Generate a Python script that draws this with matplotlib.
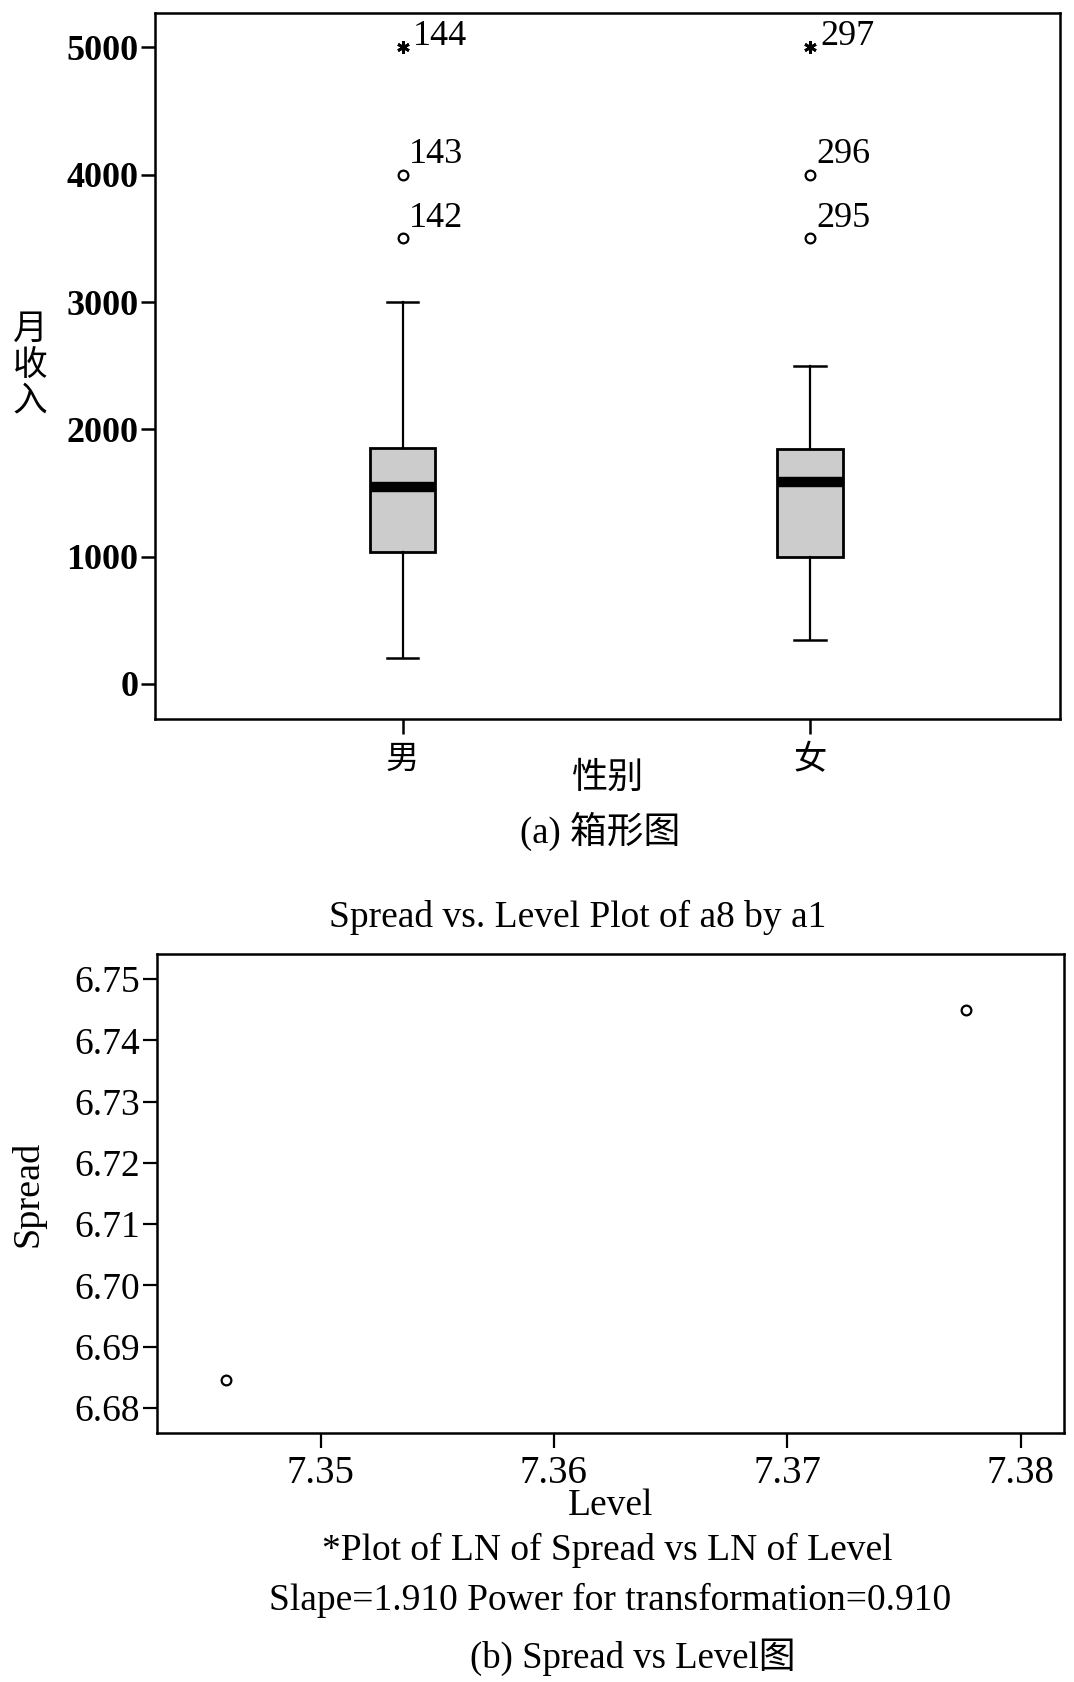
import matplotlib
matplotlib.use("Agg")
import matplotlib.pyplot as plt

plt.rcParams['font.family'] = ['Liberation Serif', 'Noto Sans CJK SC']
plt.rcParams['axes.unicode_minus'] = False

# ---------------- data ----------------
groups = ['男', '女']
q1 = [1039, 995]
medians = [1550, 1587]
q3 = [1856, 1848]
whis_lo = [202, 346]
whis_hi = [3000, 2500]
outlier_vals = [[3500, 4000], [3500, 4000]]
outlier_ids = [[142, 143], [295, 296]]
extreme_vals = [[5000], [5000]]
extreme_ids = [[144], [297]]
y_ticks_a = [0, 1000, 2000, 3000, 4000, 5000]

level = [7.34597, 7.37764]
spread = [6.68458, 6.74502]
x_ticks_b = [7.35, 7.36, 7.37, 7.38]
y_ticks_b = [6.68, 6.69, 6.70, 6.71, 6.72, 6.73, 6.74, 6.75]

W, H = 1074, 1682
fig = plt.figure(figsize=(W / 100, H / 100), dpi=100)

def fx(px):
    return px / W

def fy(py):
    return 1 - py / H

# ---------------- (a) box plot ----------------
ax1 = fig.add_axes([fx(155), fy(719), fx(1060) - fx(155), fy(12.7) - fy(719)])
positions = [1, 2]
stats = []
for i, g in enumerate(groups):
    stats.append(dict(label=g, q1=q1[i], med=medians[i], q3=q3[i],
                      whislo=whis_lo[i], whishi=whis_hi[i], fliers=[]))
ax1.bxp(stats, positions=positions, widths=0.16, patch_artist=True,
        showfliers=False,
        boxprops=dict(facecolor='#cccccc', edgecolor='black', linewidth=2.0),
        medianprops=dict(color='black', linewidth=7.5, solid_capstyle='butt'),
        whiskerprops=dict(color='black', linewidth=1.6),
        capprops=dict(color='black', linewidth=1.8),
        capwidths=0.077)

for i, p in enumerate(positions):
    ax1.plot([p] * len(outlier_vals[i]), outlier_vals[i], linestyle='none',
             marker='o', markersize=7, markerfacecolor='white',
             markeredgecolor='black', markeredgewidth=1.6)
    for v, lab in zip(outlier_vals[i], outlier_ids[i]):
        ax1.annotate(str(lab), (p, v), xytext=(4.5, 8.5), textcoords='offset points',
                     ha='left', va='baseline', fontsize=26)
    ax1.plot([p] * len(extreme_vals[i]), extreme_vals[i], linestyle='none',
             marker=(6, 2, 0), markersize=9, markeredgecolor='black',
             markeredgewidth=2.0)
    for v, lab in zip(extreme_vals[i], extreme_ids[i]):
        ax1.annotate(str(lab), (p, v), xytext=(7.5, 1.5), textcoords='offset points',
                     ha='left', va='baseline', fontsize=26)

ax1.set_xlim(0.3919, 2.6136)
ax1.set_ylim(-275, 5273)
ax1.set_yticks(y_ticks_a)
ax1.set_yticklabels([str(t) for t in y_ticks_a], fontsize=26, fontweight='bold')
ax1.set_xticks(positions)
ax1.set_xticklabels(groups, fontsize=24)
ax1.tick_params(axis='y', direction='out', length=10, width=1.8, pad=2)
ax1.tick_params(axis='x', direction='out', length=11, width=1.8, pad=8)
for s in ax1.spines.values():
    s.set_linewidth(1.8)

ax1.set_xlabel('性别', fontsize=26)
ax1.xaxis.set_label_coords((608 - 155) / 905, (719 - 779) / 706.3)
ax1.xaxis.label.set_va('center')
ax1.set_ylabel('月\n收\n入', rotation=0, fontsize=25, linespacing=1.12)
ax1.yaxis.set_label_coords((30 - 155) / 905, (719 - 366) / 706.3)
ax1.yaxis.label.set_va('center')
ax1.yaxis.label.set_ha('center')

fig.text(fx(600), fy(831), '(a) 箱形图', ha='center', va='center', fontsize=26.5)

# ---------------- (b) spread vs level ----------------
ax2 = fig.add_axes([fx(156.7), fy(1433), fx(1064) - fx(156.7), fy(954) - fy(1433)])
ax2.plot(level, spread, linestyle='none', marker='o', markersize=7,
         markerfacecolor='white', markeredgecolor='black', markeredgewidth=1.6)
ax2.set_xlim(7.34298, 7.38186)
ax2.set_ylim(6.6759, 6.7541)
ax2.set_xticks(x_ticks_b)
ax2.set_xticklabels([f'{t:.2f}' for t in x_ticks_b], fontsize=28)
ax2.set_yticks(y_ticks_b)
ax2.set_yticklabels([f'{t:.2f}' for t in y_ticks_b], fontsize=27)
ax2.tick_params(axis='y', direction='out', length=10, width=1.6, pad=2)
ax2.tick_params(axis='x', direction='out', length=11, width=1.6, pad=5)
for s in ax2.spines.values():
    s.set_linewidth(1.8)

ax2.set_xlabel('Level', fontsize=27)
ax2.xaxis.set_label_coords((610.5 - 156.7) / 907.3, (1433 - 1506) / 479)
ax2.xaxis.label.set_va('center')
ax2.set_ylabel('Spread', fontsize=27.5)
ax2.yaxis.set_label_coords((28.5 - 156.7) / 907.3, 0.5)
ax2.yaxis.label.set_va('center')

fig.text(fx(578), fy(917), 'Spread vs. Level Plot of a8 by a1', ha='center',
         va='center', fontsize=27)
fig.text(fx(607), fy(1550), '*Plot of LN of Spread vs LN of Level', ha='center',
         va='center', fontsize=27)
fig.text(fx(610.5), fy(1600), 'Slape=1.910 Power for transformation=0.910',
         ha='center', va='center', fontsize=27)
fig.text(fx(632.5), fy(1657), '(b) Spread vs Level图', ha='center', va='center',
         fontsize=26.5)

fig.savefig('out.png', dpi=100, facecolor='white')
